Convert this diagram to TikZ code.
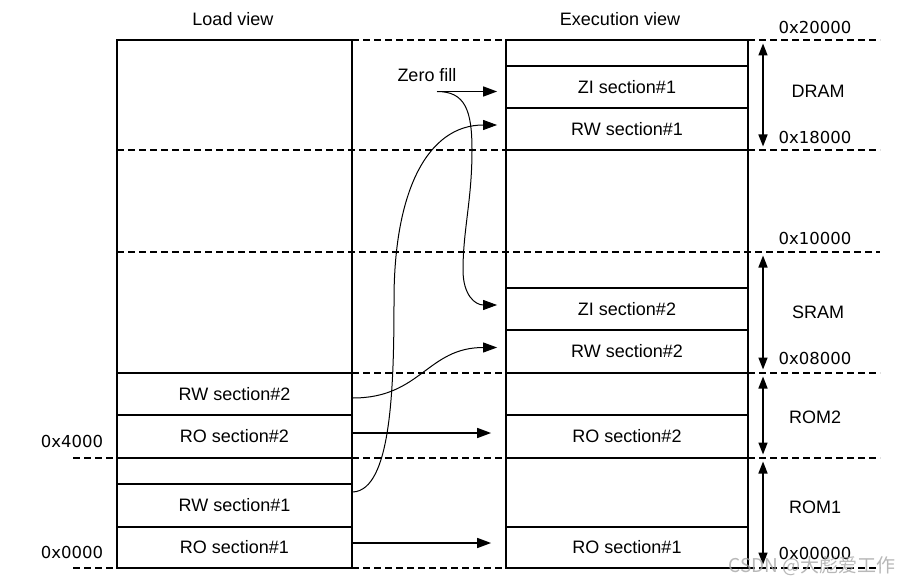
\documentclass[tikz,border=0pt]{standalone}
\usepackage{fontspec}
\setmainfont{Liberation Sans}
\newfontfamily\hexfont{DejaVu Sans}
\newfontfamily\cjkfont{Noto Sans CJK SC}
\usetikzlibrary{arrows.meta,calc}

\tikzset{
  colbox/.style={line width=1.8pt},
  secbox/.style={draw, line width=1.8pt, inner sep=0pt, font=\fontsize{18}{20}\selectfont},
  addr/.style={dash pattern=on 7pt off 4pt, line width=1.6pt},
  hexlbl/.style={font=\hexfont\fontsize{16.5}{18}\selectfont, inner sep=0pt},
  lbl/.style={font=\fontsize{18}{20}\selectfont, inner sep=0pt},
  arr/.style={-{Triangle[length=14pt,width=10pt]}, line width=1.6pt},
  curvearr/.style={-{Triangle[length=14pt,width=10pt]}, line width=1pt, shorten >=8pt},
  regionarr/.style={{Triangle[length=12pt,width=9pt]}-{Triangle[length=12pt,width=9pt]}, line width=1.6pt, shorten <=3.5pt, shorten >=3.5pt},
}

\begin{document}
\begin{tikzpicture}[x=1pt, y=-1pt]
  \useasboundingbox (0,0) rectangle (912,585);

  % headings
  \node[lbl] (ldview) at (233,19) {Load view};
  \node[lbl] (exview) at (620,19) {Execution view};

  % load view sections
  \node[secbox, minimum width=235pt, minimum height=42pt] (lRW2) at (234.5,394) {RW section\#2};
  \node[secbox, minimum width=235pt, minimum height=43pt] (lRO2) at (234.5,436.5) {RO section\#2};
  \node[secbox, minimum width=235pt, minimum height=43pt] (lRW1) at (234.5,505.5) {RW section\#1};
  \node[secbox, minimum width=235pt, minimum height=41pt] (lRO1) at (234.5,547.5) {RO section\#1};

  % execution view sections
  \node[secbox, minimum width=242pt, minimum height=42pt] (xZI1) at (627,87) {ZI section\#1};
  \node[secbox, minimum width=242pt, minimum height=42pt] (xRW1) at (627,129) {RW section\#1};
  \node[secbox, minimum width=242pt, minimum height=42pt] (xZI2) at (627,309) {ZI section\#2};
  \node[secbox, minimum width=242pt, minimum height=43pt] (xRW2) at (627,351.5) {RW section\#2};
  \node[secbox, minimum width=242pt, minimum height=43pt] (xRO2) at (627,436.5) {RO section\#2};
  \node[secbox, minimum width=242pt, minimum height=41pt] (xRO1) at (627,547.5) {RO section\#1};

  % columns
  \draw[colbox] (117,40) rectangle (352,568);
  \draw[colbox] (506,40) rectangle (748,568);

  % address lines
  \draw[addr] (352,40) -- (506,40);
  \draw[addr] (117,150) -- (506,150);
  \draw[addr] (117,252) -- (880,252);
  \draw[addr] (352,373) -- (506,373);
  \draw[addr] (73,458) -- (117,458) (352,458) -- (506,458);
  \draw[addr] (73,568) -- (117,568) (352,568) -- (506,568);
  \foreach \y in {40,150,373,458,568}
    \draw[addr] (748,\y) -- (880,\y);

  % addresses
  \node[hexlbl] (h20) at (815,27) {0x20000};
  \node[hexlbl] (h18) at (815,137) {0x18000};
  \node[hexlbl] (h10) at (815,238) {0x10000};
  \node[hexlbl] (h08) at (815,358) {0x08000};
  \node[hexlbl] (h00) at (815,553) {0x00000};
  \node[hexlbl] (l4) at (72,441) {0x4000};
  \node[hexlbl] (l0) at (72,552) {0x0000};

  % regions
  \coordinate (a20) at (763,40);
  \coordinate (a18) at (763,150);
  \coordinate (a10) at (763,252);
  \coordinate (a08) at (763,373);
  \coordinate (a04) at (763,458);
  \coordinate (a00) at (763,568);
  \draw[regionarr] (a20) -- (a18);
  \draw[regionarr] (a10) -- (a08);
  \draw[regionarr] (a08) -- (a04);
  \draw[regionarr] (a04) -- (a00);
  \node[lbl] (dram) at (818,91) {DRAM};
  \node[lbl] (sram) at (818,312) {SRAM};
  \node[lbl] (rom2) at (815,417) {ROM2};
  \node[lbl] (rom1) at (815,507) {ROM1};

  % copies
  \node[lbl] (zfill) at (427,75) {Zero fill};
  \coordinate (zf) at (437,91.5);
  \draw[arr, shorten >=8pt] (zf) -- (zf -| xZI1.west);
  \draw[curvearr] (zf) .. controls (465,91.5) and (472,110) .. (472,150)
    .. controls (472,200) and (463,230) .. (463,270)
    .. controls (463,295) and (475,305) .. ([yshift=4pt]xZI2.west);
  \draw[curvearr] ([yshift=-4pt]lRW2.east) .. controls +(68,0) and +(-78,0) .. ([yshift=4pt]xRW2.west);
  \draw[curvearr] ([yshift=13.5pt]lRW1.east) .. controls +(38,-2) and +(0,90) .. (394,300)
    .. controls (394,190) and (428,125) .. ([yshift=4pt]xRW1.west);
  \draw[arr, shorten >=14pt] ([yshift=3.5pt]lRO2.east) -- ([yshift=3.5pt]xRO2.west);
  \draw[arr, shorten >=14pt] ([yshift=4.5pt]lRO1.east) -- ([yshift=4.5pt]xRO1.west);

  \node[text=gray!70, opacity=0.8, font=\cjkfont\fontsize{19}{21}\selectfont, inner sep=0pt] (wm) at (812,566) {CSDN @大彪爱工作};
\end{tikzpicture}
\end{document}
